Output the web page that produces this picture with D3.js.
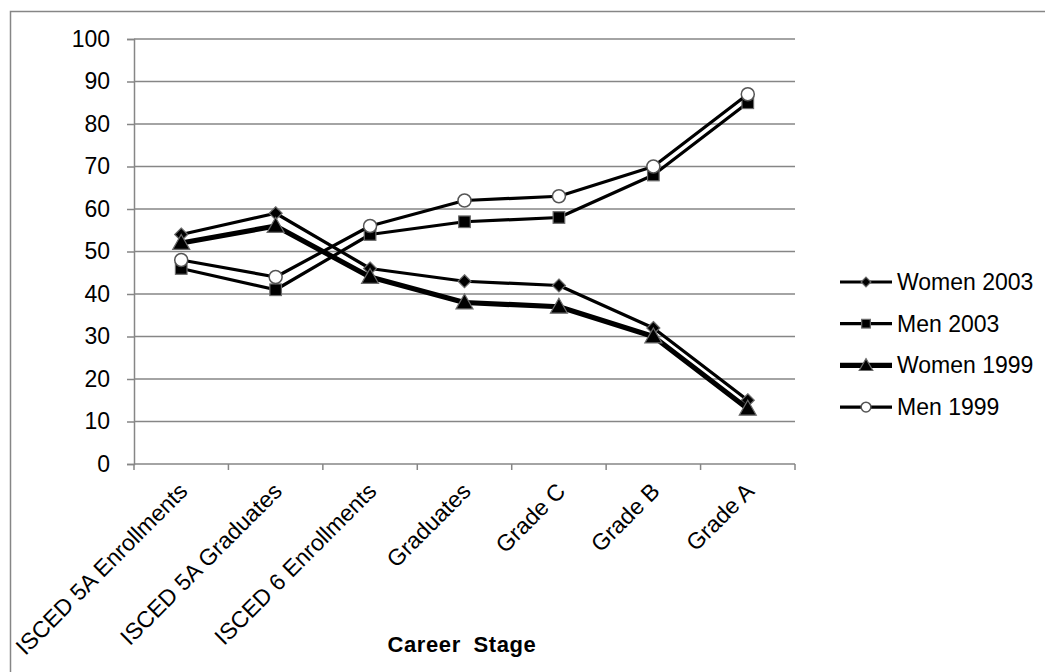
<!DOCTYPE html>
<html>
<head>
<meta charset="utf-8">
<script src="https://cdn.jsdelivr.net/npm/d3@7"></script>
<style>
  html, body { margin: 0; padding: 0; background: #fff; }
  svg { display: block; font-family: "Liberation Sans", Arial, sans-serif; }
</style>
</head>
<body>
<svg id="chart" width="1045" height="672"></svg>
<script>
// Career stages along the x axis
const stages = ["ISCED 5A Enrollments", "ISCED 5A Graduates", "ISCED 6 Enrollments",
                "Graduates", "Grade C", "Grade B", "Grade A"];
// Percentage of each group at each stage
const women2003 = [54, 59, 46, 43, 42, 32, 15];
const men2003   = [46, 41, 54, 57, 58, 68, 85];
const women1999 = [52, 56, 44, 38, 37, 30, 13];
const men1999   = [48, 44, 56, 62, 63, 70, 87];
const yTicks = [0, 10, 20, 30, 40, 50, 60, 70, 80, 90, 100];
const seriesNames = ["Women 2003", "Men 2003", "Women 1999", "Men 1999"];

(function () {
const series = [
  { name: seriesNames[0], values: women2003, marker: "diamond",  width: 3.2 },
  { name: seriesNames[1], values: men2003,   marker: "square",   width: 3.2 },
  { name: seriesNames[2], values: women1999, marker: "triangle", width: 5.2 },
  { name: seriesNames[3], values: men1999,   marker: "circle",   width: 3.2 }
];

const svg = d3.select("#chart");
const grid = "#868686";
const fs = 23;

// outer chart frame
svg.append("rect")
  .attr("x", 10.5).attr("y", 11.5)
  .attr("width", 1100).attr("height", 800)
  .attr("fill", "#fff").attr("stroke", grid).attr("stroke-width", 1.5);

const plotL = 134, plotR = 795, plotT = 39, plotB = 464;

const x = d3.scaleBand().domain(stages).range([plotL, plotR]);
const y = d3.scaleLinear().domain([0, 100]).range([plotB, plotT]);

// horizontal gridlines
svg.append("g")
  .selectAll("line").data(yTicks.filter(d => d > 0)).join("line")
  .attr("x1", plotL).attr("x2", plotR)
  .attr("y1", d => y(d)).attr("y2", d => y(d))
  .attr("stroke", grid).attr("stroke-width", 1.5);

// y axis
const yAxis = svg.append("g")
  .attr("transform", `translate(${plotL},0)`)
  .call(d3.axisLeft(y).tickValues(yTicks).tickSize(7).tickPadding(17));
yAxis.select(".domain").attr("stroke", grid).attr("stroke-width", 1.5);
yAxis.selectAll(".tick line").attr("stroke", grid).attr("stroke-width", 1.5);
yAxis.selectAll(".tick text")
  .attr("font-size", fs).attr("fill", "#000")
  .attr("font-family", "Liberation Sans, Arial, sans-serif");

// x axis with boundary ticks between categories
const xAxisG = svg.append("g").attr("transform", `translate(0,${plotB})`);
xAxisG.append("line")
  .attr("x1", plotL).attr("x2", plotR)
  .attr("stroke", grid).attr("stroke-width", 1.5);
const bounds = stages.map(s => x(s)).concat([x(stages[stages.length - 1]) + x.bandwidth()]);
xAxisG.selectAll("line.tk").data(bounds).join("line")
  .attr("class", "tk")
  .attr("x1", d => d).attr("x2", d => d)
  .attr("y1", 0).attr("y2", 6)
  .attr("stroke", grid).attr("stroke-width", 1.5);
xAxisG.selectAll("text").data(stages).join("text")
  .attr("transform", d => `translate(${x(d) + x.bandwidth() / 2 + 2},${23}) rotate(-45)`)
  .attr("text-anchor", "end")
  .attr("dy", "0.35em")
  .attr("font-size", fs).attr("fill", "#000")
  .text(d => d);

// axis title
svg.append("text")
  .attr("x", 462).attr("y", 652)
  .attr("text-anchor", "middle")
  .attr("font-size", 22).attr("font-weight", "bold").attr("fill", "#000")
  .attr("letter-spacing", 0.6).attr("word-spacing", 6)
  .text("Career Stage");

// marker drawing
function drawMarker(g, type, cx, cy, scale) {
  const s = scale || 1;
  if (type === "diamond") {
    const r = 6.5 * s;
    g.append("path")
      .attr("d", `M${cx},${cy - r}L${cx + r},${cy}L${cx},${cy + r}L${cx - r},${cy}Z`)
      .attr("fill", "#000").attr("stroke", "#6b6b6b").attr("stroke-width", 1.2);
  } else if (type === "square") {
    const r = 5.8 * s;
    g.append("rect")
      .attr("x", cx - r).attr("y", cy - r).attr("width", 2 * r).attr("height", 2 * r)
      .attr("fill", "#000").attr("stroke", "#6b6b6b").attr("stroke-width", 1.2);
  } else if (type === "triangle") {
    const r = 8.5 * s;
    g.append("path")
      .attr("d", `M${cx},${cy - r}L${cx + r},${cy + r * 0.75}L${cx - r},${cy + r * 0.75}Z`)
      .attr("fill", "#000").attr("stroke", "#6b6b6b").attr("stroke-width", 1.2);
  } else {
    g.append("circle")
      .attr("cx", cx).attr("cy", cy).attr("r", 6.5 * s)
      .attr("fill", "#fff").attr("stroke", "#555").attr("stroke-width", 1.5);
  }
}

const line = d3.line()
  .x((d, i) => x(stages[i]) + x.bandwidth() / 2)
  .y(d => y(d));

series.forEach(s => {
  const g = svg.append("g");
  g.append("path")
    .attr("d", line(s.values))
    .attr("fill", "none").attr("stroke", "#000")
    .attr("stroke-width", s.width).attr("stroke-linejoin", "round");
  s.values.forEach((v, i) => {
    drawMarker(g, s.marker, x(stages[i]) + x.bandwidth() / 2, y(v));
  });
});

// legend
const legend = svg.append("g");
series.forEach((s, i) => {
  const ly = 282 + i * 41.7;
  const g = legend.append("g");
  g.append("line")
    .attr("x1", 840).attr("x2", 892).attr("y1", ly).attr("y2", ly)
    .attr("stroke", "#000").attr("stroke-width", s.width);
  drawMarker(g, s.marker, 866, ly, s.marker === "triangle" ? 0.8 : 0.75);
  g.append("text")
    .attr("x", 897).attr("y", ly).attr("dy", "0.35em")
    .attr("font-size", fs).attr("fill", "#000")
    .text(s.name);
});
})();
</script>
</body>
</html>
